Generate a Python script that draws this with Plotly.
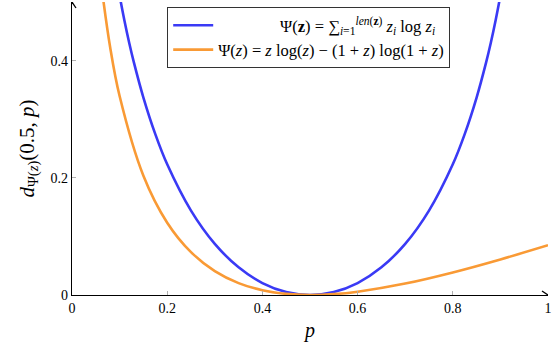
import plotly.graph_objects as go

# Blue: Psi(z) = sum z_i log z_i
p_blue = [0.09, 0.10, 0.11, 0.12, 0.13, 0.15, 0.175, 0.2, 0.25, 0.3, 0.35, 0.4, 0.45, 0.5,
          0.55, 0.6, 0.65, 0.7, 0.75, 0.8, 0.825, 0.85, 0.87, 0.88, 0.89, 0.9, 0.91]
d_blue = [0.558, 0.511, 0.469, 0.431, 0.397, 0.337, 0.2745, 0.223, 0.144, 0.0872, 0.0472, 0.0204, 0.00503, 0.0,
          0.00503, 0.0204, 0.0472, 0.0872, 0.144, 0.223, 0.2745, 0.337, 0.397, 0.431, 0.469, 0.511, 0.558]

# Orange: Psi(z) = z log z - (1+z) log(1+z)
p_orange = [0.06, 0.08, 0.10, 0.15, 0.2, 0.25, 0.3, 0.35, 0.4, 0.45, 0.5, 0.55, 0.6, 0.7, 0.8, 0.9, 1.0]
d_orange = [0.539, 0.4235, 0.3395, 0.2035, 0.1234, 0.0731, 0.0408, 0.0203, 0.0081, 0.0019, 0.0, 0.0015,
            0.00565, 0.0195, 0.0385, 0.0607, 0.0849]

x_ticks = [0, 0.2, 0.4, 0.6, 0.8, 1]
x_ticklabels = ["0", "0.2", "0.4", "0.6", "0.8", "1"]
y_ticks = [0, 0.2, 0.4]
y_ticklabels = ["0", "0.2", "0.4"]

name_blue = ("&nbsp;" * 15 + "Ψ(<b>z</b>) = ∑<sub><i>i</i>=1</sub><sup><i>len</i>(<b>z</b>)</sup> "
             "<i>z<sub>i</sub></i> log <i>z<sub>i</sub></i>")
name_orange = "Ψ(<i>z</i>) = <i>z</i> log(<i>z</i>) − (1 + <i>z</i>) log(1 + <i>z</i>)"

FONT = "Liberation Serif"
BLUE = "#3a3af5"
ORANGE = "#f99a35"

fig = go.Figure()
fig.add_trace(go.Scatter(x=p_blue, y=d_blue, mode="lines", name=name_blue, legendgroup="a",
                         line=dict(color=BLUE, width=2.6, shape="spline")))
fig.add_trace(go.Scatter(x=p_orange, y=d_orange, mode="lines", name=name_orange, legendgroup="b",
                         line=dict(color=ORANGE, width=2.6, shape="spline")))

fig.update_xaxes(range=[0, 1], tickvals=x_ticks, ticktext=x_ticklabels, ticks="inside", ticklen=4,
                 tickcolor="#b0b0b0", showgrid=False, zeroline=False, showline=True,
                 linecolor="black", linewidth=1.3, automargin=False,
                 tickfont=dict(family=FONT, size=14, color="black"),
                 title=dict(text="<i>p</i>", font=dict(family=FONT, size=20, color="black"), standoff=8))
fig.update_yaxes(range=[0, 0.5], tickvals=y_ticks, ticktext=y_ticklabels, ticks="inside", ticklen=4,
                 tickcolor="#b0b0b0", showgrid=False, zeroline=False, showline=True,
                 linecolor="black", linewidth=1.3, automargin=False,
                 tickfont=dict(family=FONT, size=14, color="black"),
                 title=dict(text="<i>d</i><sub>Ψ(<i>z</i>)</sub>(0.5, <i>p</i>)",
                            font=dict(family=FONT, size=21, color="black"), standoff=10))

# arrow heads at axis ends (pixel-sized chevrons)
arrow = dict(color="black", width=1.3)
fig.add_shape(type="line", xref="x", yref="y", xsizemode="pixel", ysizemode="pixel",
              xanchor=1, yanchor=0, x0=-6, y0=-4, x1=0, y1=0, line=arrow)
fig.add_shape(type="line", xref="x", yref="y", xsizemode="pixel", ysizemode="pixel",
              xanchor=1, yanchor=0, x0=-6, y0=4, x1=0, y1=0, line=arrow)
fig.add_shape(type="line", xref="x", yref="y", xsizemode="pixel", ysizemode="pixel",
              xanchor=0, yanchor=0.5, x0=-4, y0=-6, x1=0, y1=0, line=arrow)
fig.add_shape(type="line", xref="x", yref="y", xsizemode="pixel", ysizemode="pixel",
              xanchor=0, yanchor=0.5, x0=4, y0=-6, x1=0, y1=0, line=arrow)

fig.update_layout(
    width=552, height=346,
    margin=dict(l=72, r=4, t=2, b=51),
    plot_bgcolor="white", paper_bgcolor="white",
    showlegend=True,
    legend=dict(x=0.2, y=0.983, xanchor="left", yanchor="top",
                bgcolor="white", bordercolor="#333333", borderwidth=1,
                font=dict(family=FONT, size=16.5, color="black"),
                itemwidth=40, tracegroupgap=10, traceorder="normal"),
)

fig.write_html("out.html", config={"displayModeBar": False},
               post_script="document.body.style.margin='0';document.body.style.overflow='hidden';")
